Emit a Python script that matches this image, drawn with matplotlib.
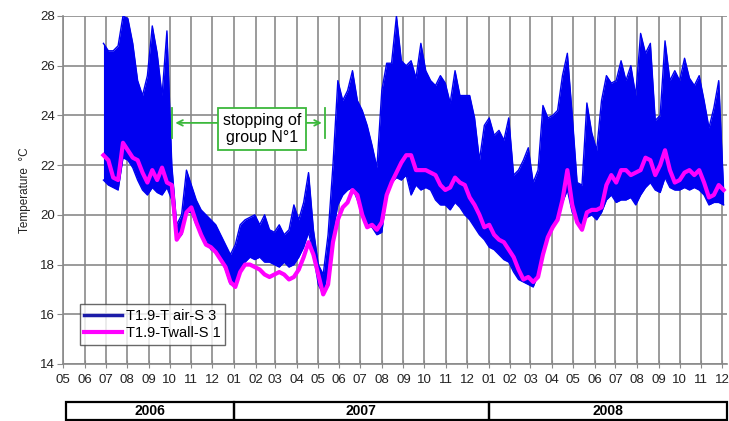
import matplotlib
matplotlib.use("Agg")
import matplotlib.pyplot as plt
import matplotlib.dates as mdates
import matplotlib.transforms as mtransforms
from matplotlib.lines import Line2D
from matplotlib.patches import Rectangle
import numpy as np
import pandas as pd

plt.rcParams['font.family'] = ['Liberation Sans', 'DejaVu Sans']

# weekly readings, T1.9 sensor room, from end of June 2006
week_start = "2006-06-28"

air_max = [
    26.9, 26.6, 26.6, 26.8, 28.0, 27.9, 26.9, 25.4, 24.8, 25.6,
    27.6, 26.5, 24.8, 27.4, 22.0, 19.6, 20.0, 21.8, 21.2, 20.6,
    20.2, 20.0, 19.8, 19.6, 19.2, 18.8, 18.4, 18.8, 19.6, 19.8,
    19.9, 20.0, 19.6, 20.0, 19.4, 19.3, 19.6, 19.2, 19.4, 20.4,
    19.8, 20.5, 21.7, 19.4, 18.0, 17.6, 19.2, 22.0, 25.4, 24.6,
    25.0, 25.8, 24.6, 24.2, 23.6, 22.8, 21.9, 25.0, 26.1, 26.1,
    28.0, 26.2, 26.0, 26.2, 25.5, 26.9, 25.8, 25.4, 25.2, 25.6,
    25.3, 24.5, 25.8, 24.8, 24.8, 24.8, 23.9, 22.2, 23.6, 23.9,
    23.2, 23.4, 23.0, 23.9, 21.6, 21.8, 22.2, 22.7, 21.3, 21.8,
    24.4, 23.9, 24.0, 24.2, 25.6, 26.5, 24.0, 21.3, 21.2, 24.5,
    23.3, 22.6, 24.6, 25.6, 25.3, 25.4, 26.2, 25.4, 26.0, 24.8,
    27.3, 26.5, 26.9, 23.8, 24.0, 27.0, 25.4, 25.8, 25.4, 26.3,
    25.5, 25.2, 25.6, 24.6, 23.5, 24.3, 25.4, 21.0,
]

air_min = [
    21.4, 21.2, 21.1, 21.0, 22.3, 22.2, 21.9, 21.4, 21.0, 20.8,
    21.1, 20.9, 20.8, 21.1, 20.6, 19.0, 19.2, 20.1, 20.1, 19.6,
    19.2, 19.0, 18.6, 18.5, 18.2, 17.8, 17.2, 17.2, 17.8, 18.1,
    18.3, 18.2, 18.3, 18.1, 18.1, 18.0, 17.9, 18.1, 17.9, 18.0,
    18.3, 18.7, 19.3, 18.4, 17.2, 16.8, 17.8, 19.3, 20.4, 20.8,
    21.0, 21.1, 20.6, 20.0, 19.6, 19.5, 19.2, 19.3, 20.8, 21.3,
    21.5, 21.4, 21.6, 20.8, 21.2, 21.0, 21.1, 21.0, 20.6, 20.4,
    20.4, 20.2, 20.5, 20.3, 20.0, 19.8, 19.5, 19.2, 19.0, 18.7,
    18.6, 18.4, 18.2, 18.1, 17.7, 17.4, 17.3, 17.2, 17.1, 17.6,
    18.5, 19.2, 19.5, 19.9, 20.5, 21.0, 20.1, 19.8, 19.6, 19.9,
    20.0, 19.8, 20.1, 20.6, 20.8, 20.5, 20.6, 20.6, 20.7, 20.4,
    20.8, 21.1, 21.3, 21.0, 20.9, 21.5, 21.1, 21.0, 21.0, 21.1,
    21.0, 21.1, 21.0, 20.8, 20.4, 20.5, 20.5, 20.4,
]

wall_mean = [
    22.4, 22.2, 21.5, 21.4, 22.9, 22.6, 22.3, 22.2, 21.7, 21.3,
    21.8, 21.4, 21.9, 21.3, 21.2, 19.0, 19.3, 20.1, 20.3, 19.7,
    19.2, 18.8, 18.7, 18.5, 18.2, 17.9, 17.3, 17.1, 17.7, 18.0,
    18.0, 17.9, 17.8, 17.6, 17.5, 17.6, 17.7, 17.6, 17.4, 17.5,
    17.8, 18.3, 18.9, 18.4, 17.6, 16.8, 17.2, 18.9, 19.8, 20.3,
    20.5, 21.0, 20.8, 20.0, 19.5, 19.6, 19.4, 19.7, 20.8, 21.3,
    21.7, 22.1, 22.4, 22.4, 21.8, 21.8, 21.8, 21.7, 21.6, 21.2,
    21.0, 21.1, 21.5, 21.3, 21.2, 20.7, 20.4, 20.0, 19.5, 19.6,
    19.2, 19.0, 18.9, 18.6, 18.3, 17.8, 17.4, 17.5, 17.3, 17.5,
    18.4, 19.1, 19.5, 19.8, 20.6, 21.8, 20.4, 19.7, 19.4, 20.1,
    20.2, 20.2, 20.3, 21.2, 21.6, 21.3, 21.8, 21.8, 21.6, 21.7,
    21.8, 22.3, 22.2, 21.6, 22.0, 22.6, 21.8, 21.3, 21.4, 21.7,
    21.8, 21.6, 21.8, 21.3, 20.7, 20.8, 21.2, 21.0,
]

years = [2006, 2007, 2008]
stop_start = "2006-10-04"
stop_end = "2007-05-12"
stop_label = "stopping of\ngroup N°1"
air_label = "T1.9-T air-S 3"
wall_label = "T1.9-Twall-S 1"

x_start = pd.Timestamp("2006-05-01")
x_end = pd.Timestamp("2008-12-08")

dates = pd.date_range(week_start, periods=len(air_max), freq="7D")

fig = plt.figure(figsize=(7.29, 4.21), dpi=100)
ax = fig.add_axes([0.0864, 0.1354, 0.911, 0.8266])

grid_col = '#8a8a8a'

# air temperature: band between weekly min and max
ax.fill_between(dates, air_min, air_max, color='#0000f0', lw=0, zorder=3)
ax.plot(dates, air_max, color='#0000f0', lw=1.0, zorder=3)
ax.plot(dates, air_min, color='#0000f0', lw=1.0, zorder=3)

# wall temperature
ax.plot(dates, wall_mean, color='#ff00ff', lw=3.0, zorder=4)

ax.set_xlim(x_start, x_end)
ax.set_ylim(14, 28)
ax.set_yticks(np.arange(14, 29, 2))

ax.xaxis.set_major_locator(mdates.MonthLocator())
ax.xaxis.set_major_formatter(mdates.DateFormatter('%m'))
ax.tick_params(axis='x', direction='inout', length=6, color=grid_col,
               labelsize=9.5, pad=4, labelcolor='#222222')
ax.tick_params(axis='y', direction='out', length=4, color=grid_col,
               labelsize=9.5, pad=2, labelcolor='#222222')

ax.grid(True, color=grid_col, lw=1.2, zorder=1)
ax.set_axisbelow(True)
for side in ['top', 'right']:
    ax.spines[side].set_visible(False)
for side in ['left', 'bottom']:
    ax.spines[side].set_color(grid_col)
    ax.spines[side].set_linewidth(1.2)

ax.set_ylabel('Temperature  °C', fontsize=8.5, labelpad=6, color='#222222')

# year band under the month labels
trans = mtransforms.blended_transform_factory(ax.transData, fig.transFigure)
band_lo, band_hi = 0.003, 0.045
x0 = mdates.date2num(x_start) + 5
x1 = mdates.date2num(x_end)
for yr in years:
    a = max(mdates.date2num(pd.Timestamp(f"{yr}-01-01")), x0)
    b = min(mdates.date2num(pd.Timestamp(f"{yr + 1}-01-01")), x1)
    ax.add_patch(Rectangle((a, band_lo), b - a, band_hi - band_lo,
                           transform=trans, fill=False, ec='black', lw=1.6,
                           clip_on=False))
    ax.text((a + b) / 2, (band_lo + band_hi) / 2, str(yr), transform=trans,
            ha='center', va='center', fontsize=10, fontweight='bold')

# stop period annotation
green = '#3cb83c'
y_arr = 23.7
s0 = mdates.date2num(pd.Timestamp(stop_start))
s1 = mdates.date2num(pd.Timestamp(stop_end))
x_box = s0 + 129
for s in (s0, s1):
    ax.plot([s, s], [23.1, 24.3], color=green, lw=1.3, zorder=5)
txt = ax.text(x_box, 23.45, stop_label, ha='center', va='center',
              fontsize=11.5, linespacing=1.2, zorder=7,
              bbox=dict(boxstyle='square,pad=0.3', fc='white', ec=green, lw=1.3))
ax.annotate('', xy=(s0 + 1, y_arr), xytext=(x_box, y_arr),
            arrowprops=dict(arrowstyle='->', color=green, lw=1.3), zorder=5)
ax.annotate('', xy=(s1 - 1, y_arr), xytext=(x_box, y_arr),
            arrowprops=dict(arrowstyle='->', color=green, lw=1.3), zorder=5)

handles = [Line2D([], [], color='#1c1ca8', lw=2.5),
           Line2D([], [], color='#ff00ff', lw=3.0)]
leg = ax.legend(handles, [air_label, wall_label], loc='lower left',
                bbox_to_anchor=(0.025, 0.055), fontsize=10.5, fancybox=False,
                edgecolor='#444444', handlelength=2.6, borderpad=0.3,
                labelspacing=0.25, handletextpad=0.3, borderaxespad=0)
leg.get_frame().set_linewidth(1.0)
leg.set_zorder(8)

fig.savefig('out.png', dpi=100)
